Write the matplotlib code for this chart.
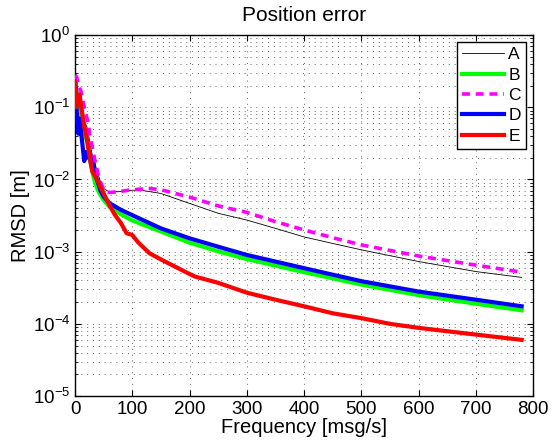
import matplotlib
matplotlib.use("Agg")
import matplotlib.pyplot as plt
from matplotlib.ticker import LogLocator, NullFormatter

plt.rcParams['font.family'] = ['Liberation Sans', 'DejaVu Sans']
plt.rcParams['mathtext.fontset'] = 'custom'
plt.rcParams['mathtext.rm'] = 'Liberation Sans'
plt.rcParams['mathtext.it'] = 'Liberation Sans:italic'
plt.rcParams['mathtext.default'] = 'regular'

# ---- data ----
a_x = [0, 3, 6, 10, 14, 18, 22, 26, 30, 35, 40, 45, 50, 60, 80, 100, 120, 150, 200, 250,
       300, 350, 400, 450, 500, 600, 700, 780]
a_y = [0.36, 0.22, 0.15, 0.11, 0.075, 0.06, 0.05, 0.032, 0.022, 0.016, 0.012, 0.009, 0.0075,
       0.0067, 0.0068, 0.0071, 0.0070, 0.0064, 0.00466, 0.0034, 0.00274, 0.0021, 0.0016,
       0.0013, 0.00106, 0.00073, 0.00053, 0.00044]

b_x = [0, 3, 6, 10, 14, 18, 22, 26, 30, 35, 40, 45, 50, 60, 80, 100, 150, 200, 250, 300,
       400, 500, 600, 700, 780]
b_y = [0.21, 0.14, 0.10, 0.07, 0.05, 0.04, 0.032, 0.02, 0.013, 0.009, 0.0071, 0.006, 0.0052,
       0.0042, 0.0033, 0.0027, 0.0019, 0.00133, 0.00101, 0.00079, 0.00052, 0.00035,
       0.00025, 0.00019, 0.000154]

c_x = [0, 3, 6, 10, 14, 18, 22, 26, 30, 35, 40, 45, 50, 60, 70, 100, 130, 150, 200, 250,
       300, 350, 400, 450, 500, 600, 700, 780]
c_y = [0.28, 0.26, 0.2, 0.17, 0.12, 0.085, 0.066, 0.04, 0.028, 0.018, 0.012, 0.009, 0.0072,
       0.0066, 0.0067, 0.0072, 0.0075, 0.0072, 0.0057, 0.0043, 0.0035, 0.0026, 0.0020,
       0.00156, 0.00124, 0.00087, 0.00065, 0.00052]

d_x = [0, 2, 4, 6, 8, 10, 13, 16, 19, 22, 25, 28, 31, 35, 40, 45, 50, 60, 80, 100, 150,
       200, 250, 300, 400, 500, 600, 700, 780]
d_y = [0.26, 0.12, 0.06, 0.043, 0.07, 0.05, 0.03, 0.018, 0.024, 0.02, 0.023, 0.016, 0.02,
       0.012, 0.009, 0.0068, 0.0058, 0.0047, 0.0038, 0.0032, 0.0021, 0.00153, 0.00117,
       0.0009, 0.00059, 0.00039, 0.00028, 0.000216, 0.000175]

e_x = [0, 2, 4, 6, 8, 10, 12, 15, 20, 25, 30, 40, 50, 60, 70, 80, 90, 100, 110, 130, 150,
       200, 210, 250, 300, 350, 400, 450, 500, 550, 600, 700, 780]
e_y = [0.22, 0.1, 0.14, 0.12, 0.15, 0.11, 0.09, 0.06, 0.039, 0.022, 0.013, 0.0093, 0.0064,
       0.0044, 0.0032, 0.0025, 0.0018, 0.0017, 0.00135, 0.00095, 0.00078, 0.00049,
       0.00045, 0.00037, 0.00027, 0.000216, 0.000175, 0.00014, 0.00012, 0.0001, 0.000088,
       0.000071, 0.00006]

labels = ['A', 'B', 'C', 'D', 'E']
x_ticks = [0, 100, 200, 300, 400, 500, 600, 700, 800]

fig = plt.figure(figsize=(5.6, 4.44), dpi=100)
ax = fig.add_axes([0.134, 0.108, 0.818, 0.813])

ax.plot(a_x, a_y, color='black', lw=0.6, label=labels[0], zorder=3)
ax.plot(b_x, b_y, color=(0, 1, 0), lw=3.0, label=labels[1], zorder=3)
ax.plot(c_x, c_y, color=(1, 0, 1), lw=2.6, ls=(0, (2.2, 1.6)), label=labels[2], zorder=4)
ax.plot(d_x, d_y, color=(0, 0, 1), lw=3.0, label=labels[3], zorder=3)
ax.plot(e_x, e_y, color=(1, 0, 0), lw=3.0, label=labels[4], zorder=5)

ax.set_yscale('log')
ax.set_ylim(1e-5, 1)
ax.set_xlim(0, 800)
ax.set_xticks(x_ticks)
ax.yaxis.set_major_locator(LogLocator(base=10, numticks=10))
ax.yaxis.set_minor_locator(LogLocator(base=10, subs=range(2, 10), numticks=100))
ax.yaxis.set_minor_formatter(NullFormatter())

ax.grid(True, which='major', axis='both', ls=(0, (1, 5)), color='#666666', lw=0.7)
ax.grid(True, which='minor', axis='y', ls=(0, (1, 5)), color='#666666', lw=0.7)

ax.tick_params(which='both', direction='in', top=True, right=True, labelsize=13.5)
ax.tick_params(axis='x', which='minor', bottom=False, top=False)
ax.tick_params(which='major', length=4)
ax.tick_params(which='minor', length=2)
for s in ax.spines.values():
    s.set_linewidth(1.0)

ax.set_title('Position error', fontsize=15, pad=10)
ax.set_xlabel('Frequency [msg/s]', fontsize=14.5, labelpad=0)
ax.set_ylabel('RMSD [m]', fontsize=14.5, labelpad=2)

leg = ax.legend(loc='upper right', fontsize=12.5, frameon=True, fancybox=False,
                edgecolor='black', framealpha=1, handlelength=2.4, handletextpad=0.25,
                labelspacing=0.3, borderpad=0.3, borderaxespad=0.4)
leg.get_frame().set_linewidth(1.0)

fig.savefig('out.png', dpi=100)
